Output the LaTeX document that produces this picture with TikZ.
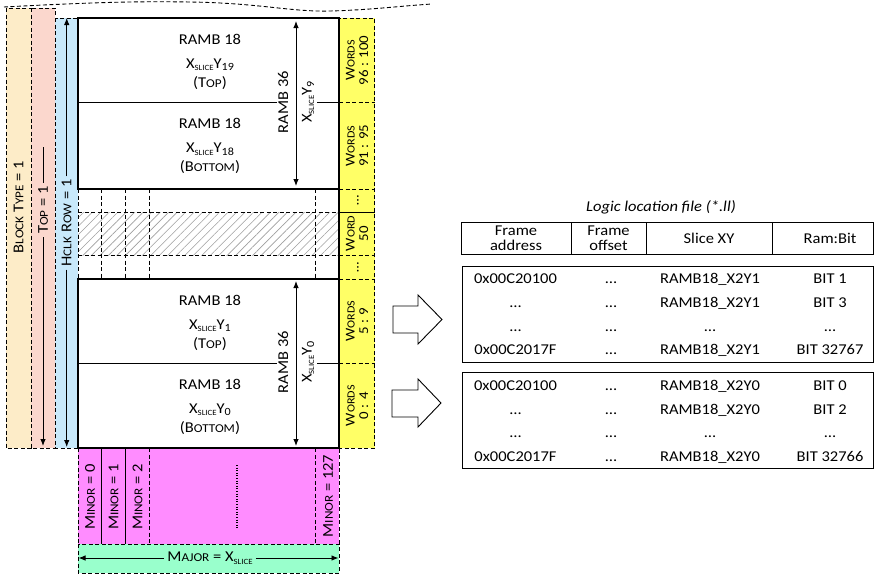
\documentclass[tikz,border=0pt]{standalone}
\usepackage{fontspec}
\setmainfont{Carlito}[FakeStretch=1.1]
\usetikzlibrary{arrows.meta,patterns.meta}
\definecolor{cOrange}{RGB}{253,236,200}
\definecolor{cPink}{RGB}{251,215,205}
\definecolor{cBlue}{RGB}{200,233,251}
\definecolor{cYellow}{RGB}{255,255,102}
\definecolor{cMag}{RGB}{255,140,255}
\definecolor{cGreen}{RGB}{153,255,204}
\newcommand{\sca}[1]{{\fontsize{12}{12}\selectfont #1}}
\newcommand{\scy}[1]{{\fontsize{11}{11}\selectfont #1}}
\newcommand{\xs}{X\raisebox{-0.35ex}{\fontsize{8}{8}\selectfont SLICE}}
\newcommand{\ysub}[1]{Y\raisebox{-0.35ex}{\fontsize{11}{11}\selectfont #1}}
\begin{document}
\begin{tikzpicture}[x=1pt,y=-1pt,
  dsh/.style={dash pattern=on 4pt off 2.5pt, line width=0.9pt},
  sol/.style={line width=1.3pt},
  thin1/.style={line width=0.9pt},
  txt/.style={inner sep=0pt, font=\fontsize{15}{16}\selectfont},
  rtxt/.style={txt, rotate=90},
  ytxt/.style={inner sep=0pt, align=center, rotate=90, font=\fontsize{13.5}{13.5}\selectfont},
  arr/.style={-{Latex[length=7pt,width=5.5pt]}, line width=0.9pt},
  darr/.style={{Latex[length=7pt,width=5.5pt]}-{Latex[length=7pt,width=5.5pt]}, line width=0.9pt},
  blockarrow/.style={line width=0.9pt, fill=white}]
\useasboundingbox (0,0) rectangle (874,576);

% top torn edge
\draw[dsh] (4,7) .. controls (80,3) and (130,1) .. (190,2)
  .. controls (260,3) and (290,12) .. (330,11)
  .. controls (370,10) and (400,6) .. (432,4);

% left columns
\draw[dsh, fill=cOrange] (6,8) rectangle (31,448);
\draw[dsh, fill=cPink] (31,8) rectangle (55,448);
\draw[dsh, fill=cBlue] (55,18) rectangle (78,448);

% yellow, magenta, green
\draw[dsh, fill=cYellow] (339,18) rectangle (374.5,448);
\draw[dsh, fill=cMag] (78,448) rectangle (339,544);
\draw[dsh, fill=cGreen] (78,544) rectangle (339,573);

% middle region
\fill[white] (78,189) rectangle (339,279);
\fill[pattern={Lines[angle=45,distance=6pt,line width=0.6pt]}, pattern color=gray!75] (78,212) rectangle (339,255);
\draw[dsh] (78,212) -- (339,212);
\draw[dsh] (78,255) -- (339,255);
\draw[dsh] (78,189) -- (78,279);
\foreach \xx in {101.7,125.7,149.3,315.7} \draw[dsh] (\xx,189) -- (\xx,279);

% yellow dividers
\foreach \yy in {102.7,189,255,279,363.3} \draw[dsh] (339,\yy) -- (374.5,\yy);
\draw[thin1] (339,212) -- (374.5,212);

% magenta dividers
\draw[thin1] (101.7,448) -- (101.7,544);
\draw[thin1] (125.7,448) -- (125.7,544);
\draw[dsh] (149.3,448) -- (149.3,544);
\draw[dsh] (315.7,448) -- (315.7,544);

% main RAMB36 blocks
\draw[sol, fill=white] (78,18) rectangle (339,189);
\draw[sol, fill=white] (78,279) rectangle (339,448);
\draw[sol] (339,189) -- (339,279);
\draw[sol] (78,102.7) -- (277,102.7);
\draw[sol] (317,102.7) -- (339,102.7);
\draw[sol] (78,363.3) -- (277,363.3);
\draw[sol] (317,363.3) -- (339,363.3);

% RAMB18 texts
\node[txt,anchor=base] (t1a) at (210,44) {RAMB 18};
\node[txt,anchor=base] (t1b) at (210,68) {\xs\ysub{19}};
\node[txt,anchor=base] (t1c) at (210,87) {(T\sca{OP})};
\node[txt,anchor=base] (t2a) at (210,128.7) {RAMB 18};
\node[txt,anchor=base] (t2b) at (210,152.7) {\xs\ysub{18}};
\node[txt,anchor=base] (t2c) at (210,171.7) {(B\sca{OTTOM})};
\node[txt,anchor=base] (t3a) at (210,305) {RAMB 18};
\node[txt,anchor=base] (t3b) at (210,329) {\xs\ysub{1}};
\node[txt,anchor=base] (t3c) at (210,348) {(T\sca{OP})};
\node[txt,anchor=base] (t4a) at (210,389.3) {RAMB 18};
\node[txt,anchor=base] (t4b) at (210,413.3) {\xs\ysub{0}};
\node[txt,anchor=base] (t4c) at (210,432.3) {(B\sca{OTTOM})};

% RAMB36 labels and arrows
\node[rtxt] (r36a) at (283,102) {RAMB 36};
\node[rtxt] (x36a) at (308,102) {\xs\ysub{9}};
\node[rtxt] (r36b) at (283,362) {RAMB 36};
\node[rtxt] (x36b) at (308,362) {\xs\ysub{0}};
\coordinate (a1t) at (296,21);
\coordinate (a1b) at (296,186);
\coordinate (a2t) at (296,281);
\coordinate (a2b) at (296,446);
\draw[darr] (a1t) -- (a1b);
\draw[darr] (a2t) -- (a2b);

% yellow labels
\node[ytxt] (w1) at (357,60.4) {W\scy{ORDS}\\96 : 100};
\node[ytxt] (w2) at (357,145.9) {W\scy{ORDS}\\91 : 95};
\node[ytxt] (w3) at (358,200.5) {…};
\node[ytxt] (w4) at (357,233.5) {W\scy{ORD}\\50};
\node[ytxt] (w5) at (358,267) {…};
\node[ytxt] (w6) at (357,321) {W\scy{ORDS}\\5 : 9};
\node[ytxt] (w7) at (357,405.6) {W\scy{ORDS}\\0 : 4};

% left column labels
\node[rtxt] (bt) at (18.5,207) {B\sca{LOCK} T\sca{YPE} = 1};
\node[rtxt, inner sep=3pt] (tp) at (43,210) {T\sca{OP} = 1};
\coordinate (tpT) at (43,147);
\coordinate (tpB) at (43,446);
\draw[thin1] (tpT) -- (tp.east);
\draw[arr] (tp.west) -- (tpB);
\node[rtxt, inner sep=3pt] (hc) at (66.7,223) {H\sca{CLK} R\sca{OW} = 1};
\coordinate (hcT) at (66.7,18);
\coordinate (hcB) at (66.7,447);
\draw[arr] (hc.east) -- (hcT);
\draw[arr] (hc.west) -- (hcB);

% minor labels
\node[rtxt] (m0) at (90,497) {M\sca{INOR} = 0};
\node[rtxt] (m1) at (113.5,497) {M\sca{INOR} = 1};
\node[rtxt] (m2) at (137.5,497) {M\sca{INOR} = 2};
\node[rtxt] (m127) at (328,496) {M\sca{INOR} = 127};
\draw[line width=1.2pt, dash pattern=on 1pt off 1.6pt] (237,465) -- (237,528);

% major
\node[txt, inner xsep=3pt] (mj) at (210,558) {M\sca{AJOR} = \xs};
\coordinate (mjL) at (78.5,558);
\coordinate (mjR) at (338.5,558);
\draw[arr] (mj.west) -- (mjL);
\draw[arr] (mj.east) -- (mjR);

% block arrows
\draw[blockarrow] (393,306) -- (418,306) -- (418,295) -- (442,319.5) -- (418,344) -- (418,333) -- (393,333) -- cycle;
\draw[blockarrow] (392,390) -- (418,390) -- (418,379) -- (441,403) -- (418,427) -- (418,417) -- (392,417) -- cycle;

% table
\node[txt, font=\itshape\fontsize{15}{16}\selectfont] (title) at (661,207) {Logic location file (*.ll)};
\draw[thin1] (461,222) rectangle (873,254);
\draw[thin1] (571,222) -- (571,254);
\draw[thin1] (646,222) -- (646,254);
\draw[thin1] (772,222) -- (772,254);
\node[txt, align=center, font=\fontsize{15}{15.5}\selectfont] (h1) at (516,238) {Frame\\address};
\node[txt, align=center, font=\fontsize{15}{15.5}\selectfont] (h2) at (608.5,238) {Frame\\offset};
\node[txt] (h3) at (709,238) {Slice XY};
\node[txt] (h4) at (830,238) {Ram:Bit};
\draw[thin1] (462,266) rectangle (873,362);
\draw[thin1] (462,372) rectangle (873,468);
\foreach \yb/\a/\c/\d [count=\i] in {
  283/0x00C20100/RAMB18\_X2Y1/BIT 1,
  307/…/RAMB18\_X2Y1/BIT 3,
  331/…/…/…,
  354.5/0x00C2017F/RAMB18\_X2Y1/BIT 32767,
  390/0x00C20100/RAMB18\_X2Y0/BIT 0,
  414/…/RAMB18\_X2Y0/BIT 2,
  437.5/…/…/…,
  461/0x00C2017F/RAMB18\_X2Y0/BIT 32766}{
  \node[txt,anchor=base] (ra\i) at (515.5,\yb) {\a};
  \node[txt,anchor=base] (rb\i) at (611,\yb) {…};
  \node[txt,anchor=base] (rc\i) at (710,\yb) {\c};
  \node[txt,anchor=base] (rd\i) at (830,\yb) {\d};
}
\end{tikzpicture}
\end{document}
